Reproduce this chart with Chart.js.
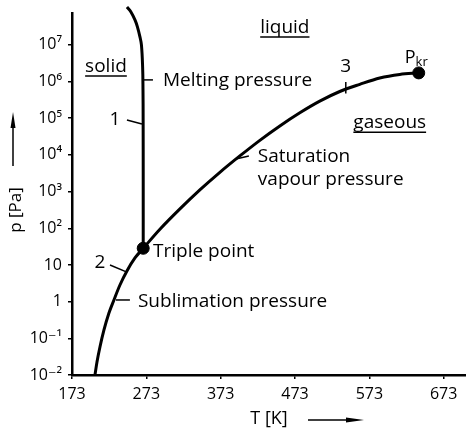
<!DOCTYPE html>
<html><head><meta charset="utf-8">
<script src="https://cdn.jsdelivr.net/npm/chart.js@4"></script>
<style>html,body{margin:0;padding:0;background:#fff}canvas{display:block}</style>
</head><body><canvas id="c" width="466" height="430"></canvas>
<script>
// ---- data (T in K, p in Pa) ----
const sublimationT = [203.9, 206.6, 210.6, 216.0, 222.7, 229.4, 237.5, 246.9, 257.7, 268.8];
const sublimationP = [0.01, 0.0226, 0.058, 0.169, 0.49, 1.11, 2.84, 6.85, 15.5, 28.5];
const saturationT = [268.8, 291.3, 318.2, 345.0, 371.9, 398.8, 425.7, 452.6, 479.5, 506.3, 533.2, 560.1, 587.0, 613.9, 639.4];
const saturationP = [28.5, 94, 337, 1110, 3350, 9380, 25000, 61700, 141000, 293000, 536000, 841000, 1256000, 1567000, 1722000];
const meltingT = [268.8, 268.8, 268.7, 268.5, 268.0, 266.4, 264.4, 261.0, 257.7, 252.3, 246.9];
const meltingP = [28.5, 2100, 9.0e4, 5.9e5, 2.5e6, 1.0e7, 1.65e7, 3.1e7, 4.8e7, 7.9e7, 1.08e8];
const specialT = [268.8, 639.4];   // triple point, critical point
const specialP = [28.5, 1722000];
const xTickValues = [173, 273, 373, 473, 573, 673];
const yTickValues = [1e-2, 1e-1, 1, 10, 1e2, 1e3, 1e4, 1e5, 1e6, 1e7];
const yTickLabels = ['10\u207B\u00B2', '10\u207B\u00B9', '1', '10', '10\u00B2', '10\u00B3', '10\u2074', '10\u2075', '10\u2076', '10\u2077'];

// annotation texts anchored in data coordinates (baseline)
const labelTexts = ['solid', 'liquid', 'gaseous', 'Melting pressure', '1', '2', '3', 'Triple point', 'Sublimation pressure', 'Saturation', 'vapour pressure'];
const labelT = [218.7, 459.3, 600.4, 295.3, 230.8, 210.6, 541.3, 282.0, 261.7, 423.0, 423.0];
const labelP = [1.83e6, 2.12e7, 5.35e4, 7.6e5, 6.6e4, 8.3, 1.83e6, 16.5, 0.715, 6560, 1520];
const labelAlign = ['center', 'center', 'center', 'left', 'center', 'center', 'center', 'left', 'left', 'left', 'left'];
const labelUnderline = [true, true, true, false, false, false, false, false, false, false, false];
// leader lines [T1, p1, T2, p2]
const leaderLines = [
  [268.8, 1.11e6, 281.9, 1.11e6],
  [246.9, 9.0e4, 267.1, 7.0e4],
  [224.1, 10, 246.9, 6.4],
  [541.3, 9.8e5, 541.3, 4.7e5],
  [232.1, 1.11, 250.9, 1.11],
  [393.4, 7760, 410.9, 9380]
];
const criticalLabelT = 620.6, criticalLabelP = 3.22e6;

const FONT = "'Open Sans', 'DejaVu Sans', sans-serif";

const toXY = (ts, ps) => ts.map((t, i) => ({x: t, y: ps[i]}));

const annotPlugin = {
  id: 'annot',
  afterDatasetsDraw(chart) {
    const ctx = chart.ctx, xs = chart.scales.x, ys = chart.scales.y;
    ctx.save();
    ctx.fillStyle = '#000'; ctx.strokeStyle = '#000';
    ctx.font = '19px ' + FONT;
    ctx.textBaseline = 'alphabetic';
    labelTexts.forEach((txt, i) => {
      const px = xs.getPixelForValue(labelT[i]), py = ys.getPixelForValue(labelP[i]);
      ctx.textAlign = labelAlign[i];
      ctx.fillText(txt, px, py);
      if (labelUnderline[i]) {
        const w = ctx.measureText(txt).width;
        const x0 = labelAlign[i] === 'center' ? px - w / 2 : px;
        ctx.lineWidth = 1.5;
        ctx.beginPath(); ctx.moveTo(x0, py + 4); ctx.lineTo(x0 + w, py + 4); ctx.stroke();
      }
    });
    // critical point label P_kr
    const cx = xs.getPixelForValue(criticalLabelT), cy = ys.getPixelForValue(criticalLabelP);
    ctx.textAlign = 'left';
    ctx.font = '18px ' + FONT;
    ctx.fillText('P', cx, cy);
    const pw = ctx.measureText('P').width;
    ctx.font = '13px ' + FONT;
    ctx.fillText('kr', cx + pw, cy + 3);
    // leader lines
    ctx.lineWidth = 1.5;
    leaderLines.forEach(l => {
      ctx.beginPath();
      ctx.moveTo(xs.getPixelForValue(l[0]), ys.getPixelForValue(l[1]));
      ctx.lineTo(xs.getPixelForValue(l[2]), ys.getPixelForValue(l[3]));
      ctx.stroke();
    });
    ctx.restore();
  },
  afterDraw(chart) {
    const ctx = chart.ctx;
    ctx.save();
    ctx.fillStyle = '#000'; ctx.strokeStyle = '#000';
    // y axis title (rotated) + arrow
    ctx.translate(16, 210);
    ctx.rotate(-Math.PI / 2);
    ctx.font = '17px ' + FONT;
    ctx.textAlign = 'center'; ctx.textBaseline = 'middle';
    ctx.fillText('p [Pa]', 0, 0);
    ctx.restore();
    ctx.save();
    ctx.fillStyle = '#000'; ctx.strokeStyle = '#000';
    ctx.lineWidth = 1.5;
    // vertical arrow
    ctx.beginPath(); ctx.moveTo(13, 166); ctx.lineTo(13, 122); ctx.stroke();
    ctx.beginPath(); ctx.moveTo(13, 112); ctx.lineTo(10.5, 128); ctx.lineTo(15.5, 128); ctx.closePath(); ctx.fill();
    // horizontal arrow
    ctx.beginPath(); ctx.moveTo(308, 420); ctx.lineTo(352, 420); ctx.stroke();
    ctx.beginPath(); ctx.moveTo(364, 420); ctx.lineTo(346, 417.5); ctx.lineTo(346, 422.5); ctx.closePath(); ctx.fill();
    ctx.restore();
  }
};

const lineDs = (label, ts, ps, extra) => Object.assign({
  label, data: toXY(ts, ps), borderColor: '#000', borderWidth: 3,
  pointRadius: 0, fill: false, tension: 0.4, showLine: true
}, extra || {});

new Chart(document.getElementById('c'), {
  type: 'line',
  data: {
    datasets: [
      lineDs('Sublimation pressure', sublimationT, sublimationP, {cubicInterpolationMode: 'monotone'}),
      lineDs('Saturation vapour pressure', saturationT, saturationP, {cubicInterpolationMode: 'monotone'}),
      lineDs('Melting pressure', meltingT, meltingP, {clip: false}),
      {label: 'Triple / critical point', data: toXY(specialT, specialP), showLine: false,
       pointRadius: 6, pointBackgroundColor: '#000', pointBorderColor: '#000', borderColor: '#000', backgroundColor: '#000'}
    ]
  },
  options: {
    responsive: false, animation: false, devicePixelRatio: 1,
    layout: {autoPadding: false, padding: {top: 13, right: 0, bottom: 0, left: 0}},
    plugins: {legend: {display: false}, tooltip: {enabled: false}},
    scales: {
      x: {
        type: 'linear', min: 173, max: 703,
        afterBuildTicks: s => { s.ticks = xTickValues.map(v => ({value: v})); },
        afterFit: s => { s.height = 55; s.paddingRight = 0; s.paddingLeft = 0; },
        grid: {drawOnChartArea: false, drawTicks: true, tickLength: 4, color: '#000', lineWidth: 1.5},
        border: {display: true, color: '#000', width: 2.5},
        ticks: {color: '#000', font: {family: FONT, size: 16}, padding: 6, maxRotation: 0,
                callback: v => String(v)},
        title: {display: true, text: 'T [K]', color: '#000', font: {family: FONT, size: 18}, padding: {top: 0, bottom: 0}}
      },
      y: {
        type: 'logarithmic', min: 0.01, max: 7.4e7,
        afterBuildTicks: s => { s.ticks = yTickValues.map(v => ({value: v})); },
        afterFit: s => { s.width = 72; s.paddingTop = 0; s.paddingBottom = 0; },
        grid: {drawOnChartArea: false, drawTicks: true, tickLength: 4, color: '#000', lineWidth: 1.5},
        border: {display: true, color: '#000', width: 2.5},
        ticks: {color: '#000', font: {family: FONT, size: 16}, padding: 6,
                callback: (v) => { const i = yTickValues.findIndex(t => Math.abs(Math.log10(t) - Math.log10(v)) < 1e-6); return i >= 0 ? yTickLabels[i] : ''; }}
      }
    }
  },
  plugins: [annotPlugin]
});
</script>
</body></html>
